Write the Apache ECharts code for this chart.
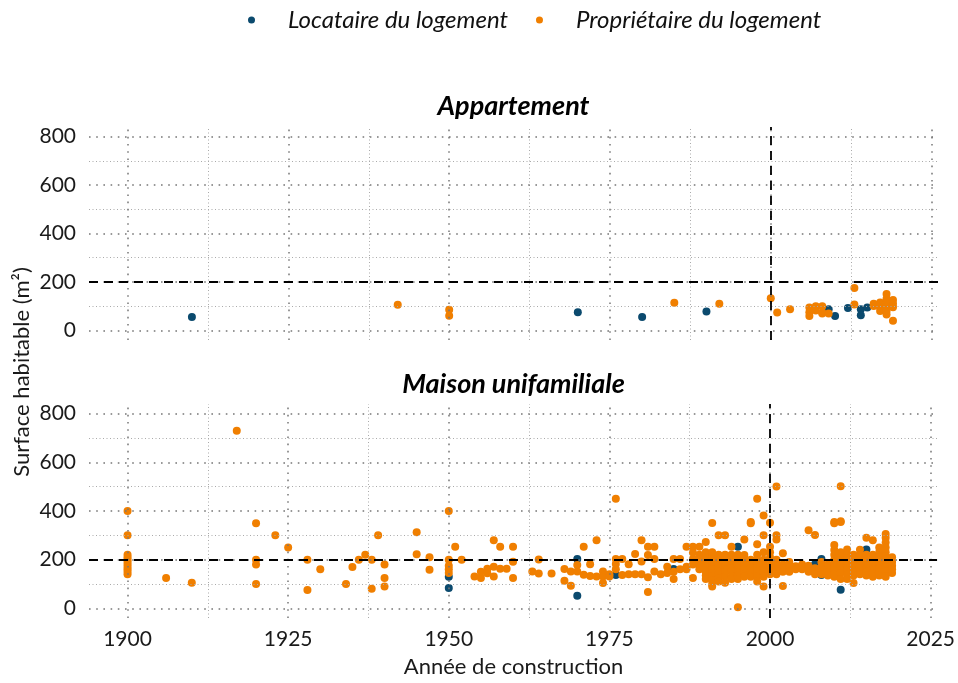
<!DOCTYPE html>
<html><head><meta charset="utf-8">
<script src="https://cdn.jsdelivr.net/npm/echarts@6/dist/echarts.min.js"></script>
<style>html,body{margin:0;padding:0;background:#fff}#c{width:958px;height:683px}</style>
</head><body><div id="c"></div>
<script>
const seriesNames = ['Locataire du logement', 'Propriétaire du logement'];
const panelTitles = ['Appartement', 'Maison unifamiliale'];
const xTitle = 'Année de construction';
const yTitle = 'Surface habitable (m²)';
const xTicks = [1900, 1925, 1950, 1975, 2000, 2025];
const xMinor = [1912.5, 1937.5, 1962.5, 1987.5, 2012.5];
const yTicks = [0, 200, 400, 600, 800];
const yMinor = [100, 300, 500, 700];
const refYear = 2000;
const refSurface = 200;

const appartLocataire = [[1910,55],[1970,75],[1980,55],[1990,78],[2009,87],[2010,59],[2012,92],[2014,87],[2014,62],[2015,94]];
const appartProprietaire = [[1942,106],[1950,85],[1950,60],[1985,114],[1992,110],[2000,133],[2001,74],[2003,87],
  [2006,94],[2006,75],[2006,59],[2007,99],[2007,82],[2008,99],[2008,74],[2008,69],[2009,70],[2013,175],[2013,107],
  [2016,100],[2016,110],[2017,95],[2017,105],[2017,115],[2017,80],[2018,150],[2018,130],[2018,120],[2018,110],
  [2018,100],[2018,90],[2018,80],[2018,65],[2019,125],[2019,110],[2019,95],[2019,40]];

const maisonLocataire = [[1950,130],[1950,83],[1970,203],[1970,52],[1976,137],[1985,162],[1991,165],[1995,253],
  [1998,144],[2007,181],[2008,203],[2008,137],[2011,165],[2011,76],[2015,242],[2018,165]];

// Propriétaire, maison : [année, [surfaces]]
const maisonProprietaireParAnnee = [
  [1900,[400,300,220,210,200,190,180,170,160,150,140]],
  [1906,[125]],[1910,[105]],[1917,[730]],[1920,[350,200,180,100]],[1923,[300]],[1925,[250]],
  [1928,[200,75]],[1930,[160]],[1934,[100]],[1935,[170]],[1936,[200]],[1937,[220]],[1938,[200,80]],
  [1939,[300]],[1940,[180,125,90]],[1945,[313,222]],[1947,[210,158]],[1950,[400,200,175,160,145]],
  [1951,[253]],[1952,[200]],[1954,[131]],[1955,[150,124]],[1956,[163,144]],[1957,[280,171,131]],
  [1958,[253,163]],[1959,[163]],[1960,[253,191,124]],[1963,[151]],[1964,[201,143]],[1966,[143]],
  [1968,[162,113]],[1969,[151,93]],[1970,[178,151]],[1971,[253,138]],[1972,[181,133]],[1973,[280,131]],
  [1974,[151,131,104]],[1975,[140,131]],[1976,[450,203,182,160]],[1977,[203,137]],[1978,[181,140]],
  [1979,[223,140]],[1980,[280,192,140]],[1981,[253,219,128,67]],[1982,[253,203,151]],[1983,[140]],
  [1984,[171,145]],[1985,[203,150,120]],[1986,[203,160]],[1987,[253,171,160]],[1988,[253,229,203,180,124]],
  [1989,[253,220,200,180,160]],
  [1990,[273,230,210,195,180,165,150,135,120]],
  [1991,[351,230,210,200,185,170,160,145,130,115,100,90]],
  [1992,[300,220,200,185,170,150,140,125,110]],
  [1993,[300,220,200,180,160,150,130,105]],
  [1994,[253,220,200,180,165,150,130,120]],
  [1995,[4,220,200,180,165,150,135,120]],
  [1996,[283,219,200,180,160,140,130]],
  [1997,[355,350,200,180,165,150,130]],
  [1998,[450,263,220,200,185,170,150,130,110]],
  [1999,[382,300,230,200,180,165,150,130,90]],
  [2000,[352,253,230,210,195,180,165,150,140]],
  [2001,[501,300,283,200,185,170,155,140]],
  [2002,[226,180,165,150,92]],[2003,[190,170,150]],[2004,[173,160]],[2005,[180,170,160]],
  [2006,[321,175,165,150]],[2007,[301,165,155,140]],[2008,[190,170,150,140]],[2009,[180,165,150,135]],
  [2010,[355,350,260,240,220,200,185,170,155,140,130]],
  [2011,[502,358,355,230,210,190,175,160,145,120]],
  [2012,[242,220,200,185,170,155,140,120]],
  [2013,[220,200,180,165,150,135,104]],
  [2014,[241,220,200,185,170,155,140]],
  [2015,[290,220,200,180,165,150,135]],
  [2016,[280,220,200,180,160,145,130]],
  [2017,[250,230,210,195,180,165,150,135]],
  [2018,[305,290,270,250,230,215,200,185,170,160,150,140,130]],
  [2019,[210,190,175,160,145]]
];
const maisonProprietaire = [];
maisonProprietaireParAnnee.forEach(([an, vals]) => vals.forEach(v => maisonProprietaire.push([an, v])));

const colors = ['#0B4A6E', '#F07F00'];
const FONT = 'Lato, "Open Sans", sans-serif';

const chart = echarts.init(document.getElementById('c'), null, {renderer: 'canvas'});

const grids = [
  {left: 89, top: 127, width: 849, height: 213},
  {left: 89, top: 404, width: 849, height: 214}
];

const majorStyle = {color: '#777777', width: 1.5, type: [1.6, 5.6]};
const minorStyle = {color: '#aaaaaa', width: 1, type: [1, 2.5]};

function gridLineSeries(i) {
  const data = [];
  xMinor.forEach(v => data.push({xAxis: v, lineStyle: minorStyle}));
  yMinor.forEach(v => data.push({yAxis: v, lineStyle: minorStyle}));
  xTicks.forEach(v => data.push({xAxis: v, lineStyle: majorStyle}));
  yTicks.forEach(v => data.push({yAxis: v, lineStyle: majorStyle}));
  return {
    type: 'scatter', name: 'grid' + i, xAxisIndex: i, yAxisIndex: i, data: [], silent: true, z: 1,
    markLine: {silent: true, symbol: ['none', 'none'], label: {show: false}, animation: false, data: data}
  };
}
function refSeries(i) {
  return {
    type: 'scatter', name: 'ref' + i, xAxisIndex: i, yAxisIndex: i, data: [], silent: true, z: 10,
    markLine: {silent: true, symbol: ['none', 'none'], label: {show: false}, animation: false,
      lineStyle: {color: '#000', width: 1.8, type: [9, 6]},
      data: [{xAxis: refYear}, {yAxis: refSurface}]}
  };
}
function pointSeries(name, i, data, color, z) {
  return {
    type: 'scatter', name: name, xAxisIndex: i, yAxisIndex: i, data: data, z: z,
    symbol: 'circle', symbolSize: 8, itemStyle: {color: color, opacity: 1}
  };
}

const option = {
  animation: false,
  backgroundColor: '#fff',
  textStyle: {fontFamily: FONT},
  legend: {
    data: seriesNames, top: 3, left: 243, icon: 'circle', itemWidth: 7, itemHeight: 7, itemGap: 28,
    textStyle: {fontFamily: FONT, fontSize: 24, fontStyle: 'italic', color: '#111', padding: [0,0,0,28]}
  },
  grid: grids,
  xAxis: grids.map((g, i) => ({
    type: 'value', gridIndex: i, min: 1894, max: 2026,
    axisLine: {show: false}, axisTick: {show: false}, splitLine: {show: false},
    axisLabel: i === 1 ? {show: true, customValues: xTicks, formatter: v => String(v), fontSize: 21, color: '#1a1a1a', margin: 11, fontFamily: FONT}
                       : {show: false}
  })),
  yAxis: grids.map((g, i) => ({
    type: 'value', gridIndex: i, min: -40, max: 840,
    axisLine: {show: false}, axisTick: {show: false}, splitLine: {show: false},
    axisLabel: {show: true, customValues: yTicks, formatter: v => String(v), fontSize: 21, color: '#1a1a1a', margin: 13, fontFamily: FONT}
  })),
  graphic: [
    {type: 'text', x: 513.5, y: 106, style: {text: panelTitles[0], font: 'italic bold 27px ' + FONT, fill: '#000', align: 'center', verticalAlign: 'middle'}},
    {type: 'text', x: 513.5, y: 384, style: {text: panelTitles[1], font: 'italic bold 27px ' + FONT, fill: '#000', align: 'center', verticalAlign: 'middle'}},
    {type: 'text', x: 513.5, y: 667, style: {text: xTitle, font: '22px ' + FONT, fill: '#1a1a1a', align: 'center', verticalAlign: 'middle'}},
    {type: 'text', x: 22, y: 372, rotation: Math.PI / 2, style: {text: yTitle, font: '22px ' + FONT, fill: '#1a1a1a', align: 'center', verticalAlign: 'middle'}}
  ],
  series: [
    gridLineSeries(0), gridLineSeries(1),
    pointSeries(seriesNames[0], 0, appartLocataire, colors[0], 3),
    pointSeries(seriesNames[1], 0, appartProprietaire, colors[1], 4),
    pointSeries(seriesNames[0], 1, maisonLocataire, colors[0], 3),
    pointSeries(seriesNames[1], 1, maisonProprietaire, colors[1], 4),
    refSeries(0), refSeries(1)
  ]
};
chart.setOption(option);
</script></body></html>
